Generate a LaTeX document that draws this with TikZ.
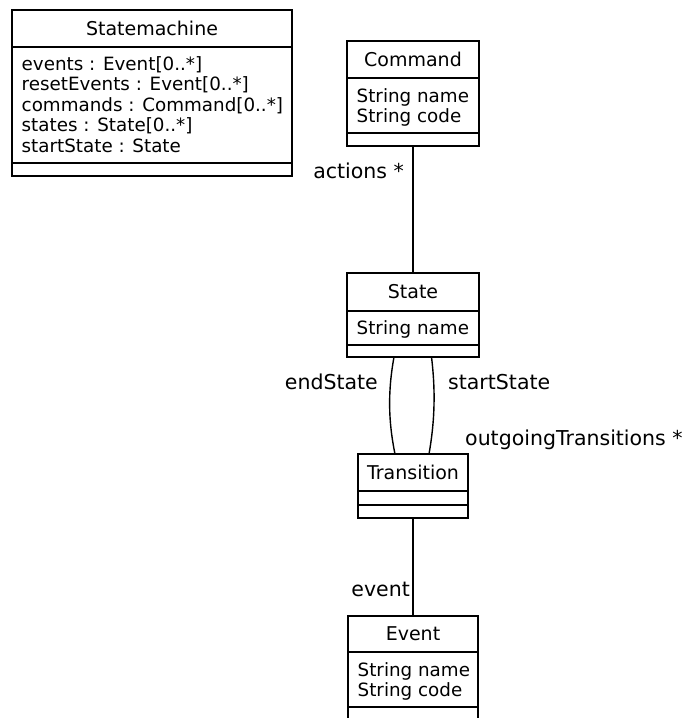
\documentclass[tikz,border=0pt]{standalone}
\usepackage{fontspec}
\setmainfont{DejaVu Sans}
\begin{document}
\begin{tikzpicture}[x=1pt,y=-1pt,
  comp/.style={draw, line width=1.8pt, inner sep=0pt, outer sep=0pt, fill=white,
    font=\fontsize{19}{21}\selectfont},
  attr/.style={anchor=base west, inner sep=0pt, font=\fontsize{18.3}{20.3}\selectfont},
  lbl/.style={inner sep=0pt, font=\fontsize{20.5}{24}\selectfont},
  assoc/.style={line width=1.4pt}]
\useasboundingbox (0,0) rectangle (689,718);

% Statemachine
\node[comp, minimum width=280pt, minimum height=37pt] (smH) at (152,28.5) {Statemachine};
\node[comp, minimum width=280pt, minimum height=116pt] (smA) at (152,105) {};
\node[comp, minimum width=280pt, minimum height=13pt] (smO) at (152,169.5) {};
\node[attr] (sm1) at (21.5,70.5) {events : Event[0..*]};
\node[attr] (sm2) at (21.5,90.9) {resetEvents : Event[0..*]};
\node[attr] (sm3) at (21.5,111.3) {commands : Command[0..*]};
\node[attr] (sm4) at (21.5,131.7) {states : State[0..*]};
\node[attr] (sm5) at (21.5,152.1) {startState : State};

% Command
\node[comp, minimum width=132pt, minimum height=37pt] (cmH) at (413,59.5) {Command};
\node[comp, minimum width=132pt, minimum height=55pt] (cmA) at (413,105.5) {};
\node[comp, minimum width=132pt, minimum height=13pt] (cmO) at (413,139.5) {};
\node[attr] (cm1) at (356.5,102.7) {String name};
\node[attr] (cm2) at (356.5,122.7) {String code};

% State
\node[comp, minimum width=132pt, minimum height=38pt] (stH) at (413,292) {State};
\node[comp, minimum width=132pt, minimum height=34pt] (stA) at (413,328) {};
\node[comp, minimum width=132pt, minimum height=12pt] (stO) at (413,351) {};
\node[attr] (st1) at (356.5,334) {String name};

% Transition
\node[comp, minimum width=110pt, minimum height=37pt] (trH) at (413,472.5) {Transition};
\node[comp, minimum width=110pt, minimum height=14pt] (trA) at (413,498) {};
\node[comp, minimum width=110pt, minimum height=13pt] (trO) at (413,511.5) {};

% Event
\node[comp, minimum width=130pt, minimum height=36pt] (evH) at (413,634) {Event};
\node[comp, minimum width=130pt, minimum height=55pt] (evA) at (413,679.5) {};
\node[comp, minimum width=130pt, minimum height=14pt] (evO) at (413,714) {};
\node[attr] (ev1) at (357.5,676.5) {String name};
\node[attr] (ev2) at (357.5,696.5) {String code};

% connectors
\draw[assoc] (cmO.south) -- (stH.north);
\draw[assoc] (trO.south) -- (evH.north);
\coordinate (eS) at (394,357);
\coordinate (eT) at (395,454);
\coordinate (sS) at (431.5,357);
\coordinate (sT) at (429,454);
\draw[assoc] (eS) .. controls (388,390) and (388,420) .. (eT);
\draw[assoc] (sS) .. controls (435.5,390) and (435,420) .. (sT);

% labels
\node[lbl, anchor=base east] (lact) at (404,178) {actions *};
\node[lbl, anchor=base east] (lend) at (378,389) {endState};
\node[lbl, anchor=base west] (lstart) at (448,389) {startState};
\node[lbl, anchor=base west] (lout) at (465,445) {outgoingTransitions *};
\node[lbl, anchor=base east] (lev) at (410,596.5) {event};
\end{tikzpicture}
\end{document}
